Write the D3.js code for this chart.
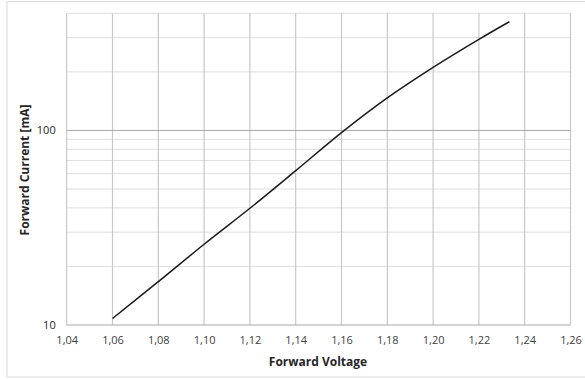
<!DOCTYPE html>
<html>
<head>
<meta charset="utf-8">
<script src="https://cdn.jsdelivr.net/npm/d3@7"></script>
<style>
  body { margin: 0; background: #fff; }
  text { font-family: "Open Sans", "Liberation Sans", sans-serif; }
</style>
</head>
<body>
<svg id="chart" width="585" height="379"></svg>
<script>
const width = 585;
const height = 379;
const margin = {top: 13.3, right: 14.5, bottom: 54, left: 66.7};

// forward voltage [V] vs forward current [mA]
const voltage = [1.06, 1.08, 1.10, 1.12, 1.14, 1.16, 1.18, 1.20, 1.22, 1.2333];
const current = [10.8, 16.7, 26.0, 39.8, 62.1, 97.5, 147, 211, 294, 362];

const xTicks = [1.04, 1.06, 1.08, 1.10, 1.12, 1.14, 1.16, 1.18, 1.20, 1.22, 1.24, 1.26];
const yMajor = [10, 100];
const yMinor = [20, 30, 40, 50, 60, 70, 80, 90, 200, 300, 400];

const svg = d3.select('#chart');

// outer frame
svg.append('rect')
  .attr('x', 7).attr('y', 1.5)
  .attr('width', 590).attr('height', 375.5)
  .attr('fill', 'none')
  .attr('stroke', '#d9d9d9')
  .attr('stroke-width', 1);

let x = d3.scaleLinear()
  .domain([1.04, 1.26])
  .range([margin.left, width - margin.right]);

let y = d3.scaleLog()
  .domain([10, 400])
  .range([height - margin.bottom, margin.top]);

const grid = svg.append('g');

grid.selectAll('line.minor')
  .data(yMinor)
  .join('line')
  .attr('x1', x(1.04)).attr('x2', x(1.26))
  .attr('y1', d => y(d)).attr('y2', d => y(d))
  .attr('stroke', '#dedede')
  .attr('stroke-width', 1);

grid.selectAll('line.vert')
  .data(xTicks.slice(1))
  .join('line')
  .attr('x1', d => x(d)).attr('x2', d => x(d))
  .attr('y1', y(400)).attr('y2', y(10))
  .attr('stroke', '#c8c8c8')
  .attr('stroke-width', 1.2);

grid.selectAll('line.major')
  .data(yMajor)
  .join('line')
  .attr('x1', x(1.04)).attr('x2', x(1.26))
  .attr('y1', d => y(d)).attr('y2', d => y(d))
  .attr('stroke', '#a6a6a6')
  .attr('stroke-width', 1);

// left axis line
svg.append('line')
  .attr('x1', x(1.04)).attr('x2', x(1.04))
  .attr('y1', y(400)).attr('y2', y(10))
  .attr('stroke', '#bfbfbf')
  .attr('stroke-width', 1);

// axes labels through d3 axes, domain/ticks hidden
const xAxis = svg.append('g')
  .attr('transform', `translate(0,${y(10)})`)
  .call(d3.axisBottom(x).tickValues(xTicks).tickSize(0).tickPadding(11)
    .tickFormat(d => d3.format('.2f')(d).replace('.', ',')));
xAxis.select('.domain').remove();
xAxis.selectAll('text').attr('font-size', 11).attr('fill', '#404040');

const yAxis = svg.append('g')
  .attr('transform', `translate(${x(1.04)},0)`)
  .call(d3.axisLeft(y).tickValues(yMajor).tickSize(0).tickPadding(11)
    .tickFormat(d3.format('d')));
yAxis.select('.domain').remove();
yAxis.selectAll('text').attr('font-size', 11).attr('fill', '#262626');

svg.append('text')
  .attr('x', 318).attr('y', 366)
  .attr('text-anchor', 'middle')
  .attr('font-size', 12)
  .attr('font-weight', 'bold')
  .attr('fill', '#262626')
  .text('Forward Voltage');

svg.append('text')
  .attr('transform', `translate(29,${170}) rotate(-90)`)
  .attr('text-anchor', 'middle')
  .attr('font-size', 12)
  .attr('font-weight', 'bold')
  .attr('fill', '#262626')
  .text('Forward Current [mA]');

const line = d3.line()
  .x((d, i) => x(voltage[i]))
  .y(d => y(d))
  .curve(d3.curveCatmullRom);

svg.append('path')
  .attr('d', line(current))
  .attr('fill', 'none')
  .attr('stroke', '#1a1a1a')
  .attr('stroke-width', 1.5);
</script>
</body>
</html>
